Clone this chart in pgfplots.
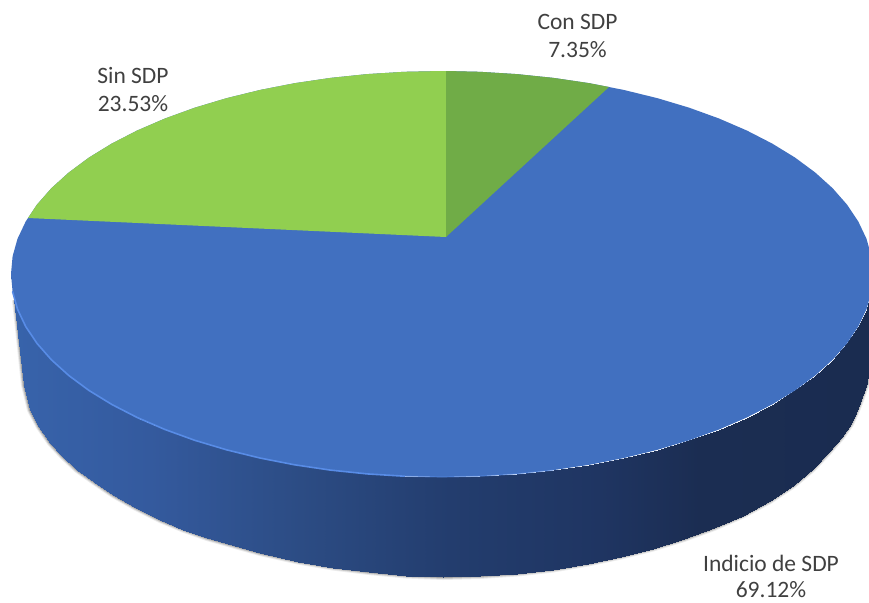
\documentclass[border=0pt]{standalone}
\usepackage{pgfplots}
\usepackage{pgfplotstable}
\usepackage{fontspec}
\setmainfont{Carlito}
\pgfplotsset{compat=1.18}
\definecolor{topblue}{RGB}{65,112,192}
\definecolor{rimblue}{RGB}{88,140,230}
\definecolor{lgreen}{RGB}{145,207,80}
\definecolor{dgreen}{RGB}{112,172,71}
\definecolor{labelc}{RGB}{64,64,64}
\pgfplotstableread{
x y
872 340
867 383
860 403
856 413
851 424
842 437
829 452
813 469
794 485
770 501
743 515.5
714 528
684 539
653 548.5
621 556.5
588 563.5
553 569.5
517 573.5
480 576
443 577
406 575.5
369 572
333 567.5
298 561.5
260 553
207 538
183 529.5
160 520
136 508
113 495
94 482
77 470
62 456
50 443
39 427
30 410
24 385
15 300
}\botrim
\begin{document}
\begin{tikzpicture}
\useasboundingbox (0,0) rectangle (869pt,602pt);
\begin{axis}[
  anchor=south west, at={(0,0)},
  scale only axis, width=869pt, height=602pt,
  xmin=0, xmax=869, ymin=0, ymax=602, y dir=reverse,
  hide axis, clip=true,
  colormap={wall}{rgb255(0pt)=(56,100,172); rgb255(150pt)=(52,90,158); rgb255(300pt)=(44,76,132); rgb255(450pt)=(35,61,110); rgb255(600pt)=(31,53,98); rgb255(700pt)=(27,45,82); rgb255(869pt)=(26,44,80)},
  point meta min=0, point meta max=869,
  every axis plot/.append style={forget plot},
]
% soft shadow below the wall
\addplot[draw=black, opacity=0.08, line width=6pt, no marks] table[x=x,y=y] {\botrim};
\addplot[draw=black, opacity=0.14, line width=4pt, no marks] table[x=x,y=y] {\botrim};
\addplot[draw=black, opacity=0.20, line width=2pt, no marks] table[x=x,y=y] {\botrim};
% wall
\addplot[surf, shader=interp, mesh/rows=2, mesh/ordering=x varies, point meta=x] table[x=x,y=y] {
x y
873 274
871.4 291.7
866.5 309.2
858.3 326.5
847 343.4
832.6 359.8
815.2 375.5
795.1 390.4
772.1 404.5
746.8 417.5
719 429.5
689.2 440.3
657.5 449.8
624.1 458
589.4 464.8
553.5 470.1
516.8 473.9
479.6 476.2
442 477
404.4 476.2
367.2 473.9
330.5 470.1
294.6 464.8
259.9 458
194.8 440.3
165 429.5
137.2 417.5
111.9 404.5
88.9 390.4
68.8 375.5
51.4 359.8
37 343.4
25.7 326.5
17.5 309.2
12.6 291.7
11 274
11 274
11 274
872 340
867 383
860 403
856 413
851 424
842 437
829 452
813 469
794 485
770 501
743 515.5
714 528
684 539
653 548.5
621 556.5
588 563.5
553 569.5
517 573.5
480 576
443 577
406 575.5
369 572
333 567.5
298 561.5
260 553
207 538
183 529.5
160 520
136 508
113 495
94 482
77 470
62 456
50 443
39 427
30 410
24 385
15 300
};
% top face: Indicio de SDP
\addplot[fill=topblue, draw=none] coordinates {
(873,274)(871.4,291.7)(866.5,309.2)(858.3,326.5)(847,343.4)(832.6,359.8)(815.2,375.5)(795.1,390.4)(772.1,404.5)(746.8,417.5)(719,429.5)(689.2,440.3)(657.5,449.8)(624.1,458)(589.4,464.8)(553.5,470.1)(516.8,473.9)(479.6,476.2)(442,477)(404.4,476.2)(367.2,473.9)(330.5,470.1)(294.6,464.8)(259.9,458)(226.5,449.8)(194.8,440.3)(165,429.5)(137.2,417.5)(111.9,404.5)(88.9,390.4)(68.8,375.5)(51.4,359.8)(37,343.4)(25.7,326.5)(17.5,309.2)(12.6,291.7)(11,274)
(12.6,256.3)(17.5,238.8)(25.7,221.5)(37,204.6)(51.4,188.2)(68.8,172.5)(88.9,157.6)(111.9,143.5)(137.2,130.5)(165,118.5)(194.8,107.7)(226.5,98.2)(259.9,90)(294.6,83.2)(330.5,77.9)(367.2,74.1)(404.4,71.8)(442,71)
(479.6,71.8)(516.8,74.1)(553.5,77.9)(589.4,83.2)(624.1,90)(657.5,98.2)(689.2,107.7)(719,118.5)(746.8,130.5)(772.1,143.5)(795.1,157.6)(815.2,172.5)(832.6,188.2)(847,204.6)(858.3,221.5)(866.5,238.8)(871.4,256.3)(873,274)
};
% top face: Sin SDP
\addplot[fill=lgreen, draw=none] coordinates {
(446,237)(28,218)(37,204.6)(51.4,188.2)(68.8,172.5)(88.9,157.6)(111.9,143.5)(137.2,130.5)(165,118.5)(194.8,107.7)(226.5,98.2)(259.9,90)(294.6,83.2)(330.5,77.9)(367.2,74.1)(404.4,71.8)(442,71)(446,71)(446,237)
};
% top face: Con SDP
\addplot[fill=dgreen, draw=none] coordinates {
(446,237)(446,71)(479.6,71.8)(516.8,74.1)(553.5,77.9)(589.4,83.2)(609,87)(446,237)
};
% rim highlight on the lower left edge
\addplot[draw=rimblue, line width=1.6pt, no marks, line cap=round] coordinates {
(404.4,476.2)(367.2,473.9)(330.5,470.1)(294.6,464.8)(259.9,458)(226.5,449.8)(194.8,440.3)(165,429.5)(137.2,417.5)(111.9,404.5)(88.9,390.4)(68.8,375.5)(51.4,359.8)(37,343.4)(25.7,326.5)(17.5,309.2)(12.6,291.7)
};
\addplot[draw=rimblue, opacity=0.5, line width=1.2pt, no marks, line cap=round] coordinates {
(553.5,470.1)(516.8,473.9)(479.6,476.2)(442,477)(404.4,476.2)
};
% labels
\node[text=labelc, font=\fontsize{23.5}{26}\selectfont] at (axis cs:577.5,22) {Con SDP};
\node[text=labelc, font=\fontsize{23.5}{26}\selectfont] at (axis cs:577.5,50) {7.35\%};
\node[text=labelc, font=\fontsize{23.5}{26}\selectfont] at (axis cs:133,75) {Sin SDP};
\node[text=labelc, font=\fontsize{23.5}{26}\selectfont] at (axis cs:133,104) {23.53\%};
\node[text=labelc, font=\fontsize{23.5}{26}\selectfont] at (axis cs:771,563) {Indicio de SDP};
\node[text=labelc, font=\fontsize{23.5}{26}\selectfont] at (axis cs:771,589.5) {69.12\%};
\end{axis}
\end{tikzpicture}
\end{document}
